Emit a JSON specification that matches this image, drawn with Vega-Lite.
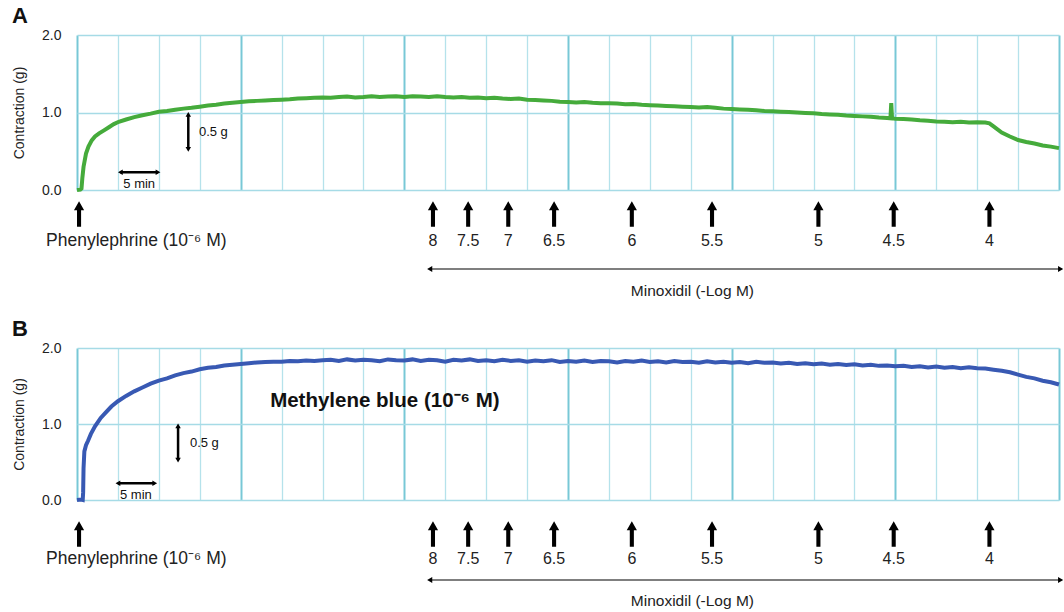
{
  "$schema": "https://vega.github.io/schema/vega-lite/v6.json",
  "padding": {"left": 12, "top": 5, "right": 0, "bottom": 0},
  "background": "white",
  "config": {
    "font": "Liberation Sans",
    "view": {"stroke": null},
    "title": {"color": "#111", "font": "Liberation Sans"}
  },
  "datasets": {
    "A": [
      {"t":0,"g":0},{"t":0.4,"g":0.005},{"t":0.55,"g":0.02},{"t":0.65,"g":0.15},{"t":0.8,"g":0.3},{"t":1.1,"g":0.47},{"t":1.4,"g":0.56},{"t":1.8,"g":0.64},{"t":2.2,"g":0.69},{"t":2.7,"g":0.73},{"t":3.3,"g":0.77},{"t":3.9,"g":0.81},{"t":4.5,"g":0.85},{"t":5.1,"g":0.88},{"t":6,"g":0.91},{"t":7,"g":0.94},{"t":8,"g":0.965},{"t":9,"g":0.985},{"t":10,"g":1.01},{"t":11,"g":1.02},{"t":12,"g":1.035},{"t":13,"g":1.05},{"t":14,"g":1.06},{"t":15,"g":1.075},{"t":16,"g":1.09},{"t":17,"g":1.1},{"t":18,"g":1.115},{"t":19,"g":1.125},{"t":20,"g":1.135},{"t":21,"g":1.145},{"t":22,"g":1.15},{"t":23,"g":1.155},{"t":24,"g":1.16},{"t":25,"g":1.165},{"t":26,"g":1.17},{"t":27,"g":1.18},{"t":28,"g":1.185},{"t":29,"g":1.19},{"t":30,"g":1.195},{"t":31,"g":1.19},{"t":32,"g":1.2},{"t":33,"g":1.205},{"t":34,"g":1.195},{"t":35,"g":1.2},{"t":36,"g":1.21},{"t":37,"g":1.2},{"t":38,"g":1.205},{"t":39,"g":1.21},{"t":40,"g":1.2},{"t":41,"g":1.21},{"t":42,"g":1.205},{"t":43,"g":1.2},{"t":44,"g":1.21},{"t":45,"g":1.2},{"t":46,"g":1.195},{"t":47,"g":1.2},{"t":48,"g":1.19},{"t":49,"g":1.195},{"t":50,"g":1.185},{"t":51,"g":1.19},{"t":52,"g":1.18},{"t":53,"g":1.175},{"t":54,"g":1.18},{"t":55,"g":1.165},{"t":56,"g":1.16},{"t":57,"g":1.155},{"t":58,"g":1.15},{"t":59,"g":1.14},{"t":60,"g":1.135},{"t":61,"g":1.13},{"t":62,"g":1.135},{"t":63,"g":1.125},{"t":64,"g":1.12},{"t":65,"g":1.12},{"t":66,"g":1.115},{"t":67,"g":1.105},{"t":68,"g":1.11},{"t":69,"g":1.1},{"t":70,"g":1.095},{"t":71,"g":1.09},{"t":72,"g":1.085},{"t":73,"g":1.08},{"t":74,"g":1.075},{"t":75,"g":1.07},{"t":76,"g":1.065},{"t":77,"g":1.07},{"t":78,"g":1.06},{"t":79,"g":1.05},{"t":80,"g":1.045},{"t":81,"g":1.04},{"t":82,"g":1.035},{"t":83,"g":1.03},{"t":84,"g":1.02},{"t":85,"g":1.015},{"t":86,"g":1.01},{"t":87,"g":1.005},{"t":88,"g":1.0},{"t":89,"g":0.995},{"t":90,"g":0.99},{"t":91,"g":0.98},{"t":92,"g":0.975},{"t":93,"g":0.97},{"t":94,"g":0.96},{"t":95,"g":0.955},{"t":96,"g":0.95},{"t":97,"g":0.945},{"t":98,"g":0.935},{"t":99,"g":0.93},{"t":99.4,"g":0.925},{"t":99.5,"g":1.12},{"t":99.6,"g":0.925},{"t":100,"g":0.92},{"t":101,"g":0.915},{"t":102,"g":0.91},{"t":103,"g":0.9},{"t":104,"g":0.895},{"t":105,"g":0.885},{"t":106,"g":0.88},{"t":107,"g":0.875},{"t":108,"g":0.88},{"t":109,"g":0.87},{"t":110,"g":0.875},{"t":111,"g":0.87},{"t":111.5,"g":0.86},{"t":112,"g":0.82},{"t":113,"g":0.74},{"t":114,"g":0.69},{"t":115,"g":0.645},{"t":116,"g":0.62},{"t":117,"g":0.6},{"t":118,"g":0.575},{"t":119,"g":0.56},{"t":120,"g":0.54}
    ],
    "B": [
      {"t":0,"g":0},{"t":0.5,"g":0.005},{"t":0.7,"g":0},{"t":0.75,"g":0.1},{"t":0.8,"g":0.42},{"t":0.9,"g":0.64},{"t":1.1,"g":0.72},{"t":1.35,"g":0.78},{"t":1.7,"g":0.87},{"t":2.2,"g":0.97},{"t":2.9,"g":1.08},{"t":3.5,"g":1.15},{"t":4.2,"g":1.23},{"t":5,"g":1.3},{"t":6,"g":1.37},{"t":7,"g":1.43},{"t":8,"g":1.48},{"t":9,"g":1.53},{"t":10,"g":1.57},{"t":11,"g":1.6},{"t":12,"g":1.64},{"t":13,"g":1.67},{"t":14,"g":1.69},{"t":15,"g":1.72},{"t":16,"g":1.74},{"t":17,"g":1.75},{"t":18,"g":1.77},{"t":19,"g":1.78},{"t":20,"g":1.79},{"t":21,"g":1.8},{"t":22,"g":1.81},{"t":23,"g":1.815},{"t":24,"g":1.82},{"t":25,"g":1.82},{"t":26,"g":1.83},{"t":27,"g":1.825},{"t":28,"g":1.835},{"t":29,"g":1.83},{"t":30,"g":1.84},{"t":31,"g":1.845},{"t":32,"g":1.83},{"t":33,"g":1.85},{"t":34,"g":1.835},{"t":35,"g":1.845},{"t":36,"g":1.84},{"t":37,"g":1.825},{"t":38,"g":1.85},{"t":39,"g":1.84},{"t":40,"g":1.835},{"t":41,"g":1.85},{"t":42,"g":1.83},{"t":43,"g":1.845},{"t":44,"g":1.84},{"t":45,"g":1.82},{"t":46,"g":1.845},{"t":47,"g":1.835},{"t":48,"g":1.85},{"t":49,"g":1.83},{"t":50,"g":1.84},{"t":51,"g":1.825},{"t":52,"g":1.845},{"t":53,"g":1.83},{"t":54,"g":1.84},{"t":55,"g":1.82},{"t":56,"g":1.835},{"t":57,"g":1.825},{"t":58,"g":1.84},{"t":59,"g":1.815},{"t":60,"g":1.83},{"t":61,"g":1.82},{"t":62,"g":1.835},{"t":63,"g":1.815},{"t":64,"g":1.83},{"t":65,"g":1.825},{"t":66,"g":1.81},{"t":67,"g":1.83},{"t":68,"g":1.82},{"t":69,"g":1.835},{"t":70,"g":1.815},{"t":71,"g":1.825},{"t":72,"g":1.81},{"t":73,"g":1.83},{"t":74,"g":1.815},{"t":75,"g":1.82},{"t":76,"g":1.805},{"t":77,"g":1.825},{"t":78,"g":1.81},{"t":79,"g":1.82},{"t":80,"g":1.805},{"t":81,"g":1.815},{"t":82,"g":1.8},{"t":83,"g":1.82},{"t":84,"g":1.805},{"t":85,"g":1.81},{"t":86,"g":1.795},{"t":87,"g":1.805},{"t":88,"g":1.79},{"t":89,"g":1.8},{"t":90,"g":1.785},{"t":91,"g":1.795},{"t":92,"g":1.78},{"t":93,"g":1.79},{"t":94,"g":1.775},{"t":95,"g":1.785},{"t":96,"g":1.77},{"t":97,"g":1.78},{"t":98,"g":1.765},{"t":99,"g":1.77},{"t":100,"g":1.76},{"t":101,"g":1.765},{"t":102,"g":1.75},{"t":103,"g":1.76},{"t":104,"g":1.745},{"t":105,"g":1.755},{"t":106,"g":1.74},{"t":107,"g":1.75},{"t":108,"g":1.735},{"t":109,"g":1.745},{"t":110,"g":1.735},{"t":111,"g":1.73},{"t":112,"g":1.715},{"t":113,"g":1.7},{"t":114,"g":1.68},{"t":115,"g":1.65},{"t":116,"g":1.62},{"t":117,"g":1.6},{"t":118,"g":1.57},{"t":119,"g":1.55},{"t":120,"g":1.52}
    ],
    "adds": [
      {"t":43.5,"label":"8"},{"t":47.8,"label":"7.5"},{"t":52.7,"label":"7"},{"t":58.3,"label":"6.5"},{"t":67.8,"label":"6"},{"t":77.6,"label":"5.5"},{"t":90.6,"label":"5"},{"t":99.8,"label":"4.5"},{"t":111.5,"label":"4"}
    ],
    "pe": [{"t":0.25,"label":"Phenylephrine (10⁻⁶ M)"}]
  },
  "vconcat": [
    {
      "width": 982, "height": 155,
      "title": {"text": "A", "anchor": "start", "frame": "group", "fontSize": 22, "fontWeight": "bold", "dx": -65, "offset": 0},
      "layer": [
        {
          "data": {"name": "A"},
          "mark": {"type": "line", "color": "#45ab3b", "strokeWidth": 4},
          "encoding": {
            "x": {"field": "t", "type": "quantitative", "scale": {"domain": [0, 120], "nice": false, "zero": false},
              "axis": {"values": [0,5,10,15,20,25,30,35,40,45,50,55,60,65,70,75,80,85,90,95,100,105,110,115,120], "labels": false, "ticks": false, "domain": false, "title": null, "grid": true,
                "gridColor": {"condition": {"test": "datum.value % 20 === 0", "value": "#78c8d6"}, "value": "#b5e2eb"},
                "gridWidth": {"condition": {"test": "datum.value % 20 === 0", "value": 2}, "value": 1.3}}},
            "y": {"field": "g", "type": "quantitative", "scale": {"domain": [0, 2], "nice": false},
              "axis": {"values": [0, 0.5, 1, 1.5, 2], "labelExpr": "datum.value % 1 === 0 ? format(datum.value, '.1f') : ''", "ticks": false, "domain": false, "grid": true, "gridColor": "#a6dbe6", "gridWidth": 1.4, "labelPadding": 16, "labelFontSize": 14, "labelColor": "#222", "title": "Contraction (g)", "titleFontSize": 14, "titleFontWeight": "normal", "titleColor": "#222", "titlePadding": 15}}
          }
        },
        {"data": {"values": [{}]}, "mark": {"type": "rule", "color": "black", "strokeWidth": 2.5}, "encoding": {"x": {"datum": 13.6, "type": "quantitative"}, "y": {"datum": 0.53, "type": "quantitative"}, "y2": {"datum": 0.97}}},
        {"data": {"values": [{}]}, "mark": {"type": "point", "shape": "triangle-up", "size": 30, "filled": true, "color": "black", "opacity": 1}, "encoding": {"x": {"datum": 13.6, "type": "quantitative"}, "y": {"datum": 0.975, "type": "quantitative"}}},
        {"data": {"values": [{}]}, "mark": {"type": "point", "shape": "triangle-down", "size": 30, "filled": true, "color": "black", "opacity": 1}, "encoding": {"x": {"datum": 13.6, "type": "quantitative"}, "y": {"datum": 0.525, "type": "quantitative"}}},
        {"data": {"values": [{}]}, "mark": {"type": "text", "text": "0.5 g", "fontSize": 13, "align": "left", "baseline": "middle", "color": "#111"}, "encoding": {"x": {"datum": 14.9, "type": "quantitative"}, "y": {"datum": 0.75, "type": "quantitative"}}},
        {"data": {"values": [{}]}, "mark": {"type": "rule", "color": "black", "strokeWidth": 2.5}, "encoding": {"x": {"datum": 5.3, "type": "quantitative"}, "x2": {"datum": 9.9}, "y": {"datum": 0.23, "type": "quantitative"}}},
        {"data": {"values": [{}]}, "mark": {"type": "point", "shape": "triangle-left", "size": 30, "filled": true, "color": "black", "opacity": 1}, "encoding": {"x": {"datum": 5.3, "type": "quantitative"}, "y": {"datum": 0.23, "type": "quantitative"}}},
        {"data": {"values": [{}]}, "mark": {"type": "point", "shape": "triangle-right", "size": 30, "filled": true, "color": "black", "opacity": 1}, "encoding": {"x": {"datum": 9.9, "type": "quantitative"}, "y": {"datum": 0.23, "type": "quantitative"}}},
        {"data": {"values": [{}]}, "mark": {"type": "text", "text": "5 min", "fontSize": 13, "align": "center", "baseline": "middle", "color": "#111"}, "encoding": {"x": {"datum": 7.6, "type": "quantitative"}, "y": {"datum": 0.08, "type": "quantitative"}}}
      ]
    },
    {
      "width": 982, "height": 120,
      "layer": [
        {"data": {"name": "adds"}, "mark": {"type": "point", "shape": "M0,-1L0.4,-0.3L0.16,-0.3L0.16,1L-0.16,1L-0.16,-0.3L-0.4,-0.3Z", "size": 650, "filled": true, "color": "black", "opacity": 1, "strokeWidth": 0},
          "encoding": {"x": {"field": "t", "type": "quantitative", "scale": {"domain": [0, 120], "nice": false, "zero": false}, "axis": null}, "y": {"datum": 16, "type": "quantitative", "scale": {"domain": [0, 120], "reverse": true, "nice": false, "zero": false}, "axis": null}}},
        {"data": {"name": "adds"}, "mark": {"type": "text", "fontSize": 16, "baseline": "middle", "color": "#222"},
          "encoding": {"x": {"field": "t", "type": "quantitative"}, "y": {"datum": 43, "type": "quantitative"}, "text": {"field": "label"}}},
        {"data": {"name": "pe"}, "mark": {"type": "point", "shape": "M0,-1L0.4,-0.3L0.16,-0.3L0.16,1L-0.16,1L-0.16,-0.3L-0.4,-0.3Z", "size": 650, "filled": true, "color": "black", "opacity": 1, "strokeWidth": 0},
          "encoding": {"x": {"field": "t", "type": "quantitative"}, "y": {"datum": 16, "type": "quantitative"}}},
        {"data": {"name": "pe"}, "mark": {"type": "text", "fontSize": 17.5, "baseline": "middle", "align": "left", "dx": -33, "color": "#222"},
          "encoding": {"x": {"field": "t", "type": "quantitative"}, "y": {"datum": 43, "type": "quantitative"}, "text": {"field": "label"}}},
        {"data": {"values": [{}]}, "mark": {"type": "rule", "color": "black", "strokeWidth": 1.2}, "encoding": {"x": {"datum": 43.0, "type": "quantitative"}, "x2": {"datum": 120.3}, "y": {"datum": 71, "type": "quantitative"}}},
        {"data": {"values": [{}]}, "mark": {"type": "point", "shape": "triangle-left", "size": 35, "filled": true, "color": "black", "opacity": 1}, "encoding": {"x": {"datum": 43.1, "type": "quantitative"}, "y": {"datum": 71, "type": "quantitative"}}},
        {"data": {"values": [{}]}, "mark": {"type": "point", "shape": "triangle-right", "size": 35, "filled": true, "color": "black", "opacity": 1}, "encoding": {"x": {"datum": 120.2, "type": "quantitative"}, "y": {"datum": 71, "type": "quantitative"}}},
        {"data": {"values": [{}]}, "mark": {"type": "text", "text": "Minoxidil (-Log M)", "fontSize": 15.5, "baseline": "middle", "align": "center", "color": "#222"}, "encoding": {"x": {"datum": 75.2, "type": "quantitative"}, "y": {"datum": 93, "type": "quantitative"}}}
      ]
    },
    {
      "width": 982, "height": 152,
      "title": {"text": "B", "anchor": "start", "frame": "group", "fontSize": 22, "fontWeight": "bold", "dx": -65, "offset": 0},
      "layer": [
        {
          "data": {"name": "B"},
          "mark": {"type": "line", "color": "#3859b3", "strokeWidth": 4},
          "encoding": {
            "x": {"field": "t", "type": "quantitative", "scale": {"domain": [0, 120], "nice": false, "zero": false},
              "axis": {"values": [0,5,10,15,20,25,30,35,40,45,50,55,60,65,70,75,80,85,90,95,100,105,110,115,120], "labels": false, "ticks": false, "domain": false, "title": null, "grid": true,
                "gridColor": {"condition": {"test": "datum.value % 20 === 0", "value": "#78c8d6"}, "value": "#b5e2eb"},
                "gridWidth": {"condition": {"test": "datum.value % 20 === 0", "value": 2}, "value": 1.3}}},
            "y": {"field": "g", "type": "quantitative", "scale": {"domain": [0, 2], "nice": false},
              "axis": {"values": [0, 0.5, 1, 1.5, 2], "labelExpr": "datum.value % 1 === 0 ? format(datum.value, '.1f') : ''", "ticks": false, "domain": false, "grid": true, "gridColor": "#a6dbe6", "gridWidth": 1.4, "labelPadding": 16, "labelFontSize": 14, "labelColor": "#222", "title": "Contraction (g)", "titleFontSize": 14, "titleFontWeight": "normal", "titleColor": "#222", "titlePadding": 15}}
          }
        },
        {"data": {"values": [{}]}, "mark": {"type": "rule", "color": "black", "strokeWidth": 2.5}, "encoding": {"x": {"datum": 12.35, "type": "quantitative"}, "y": {"datum": 0.53, "type": "quantitative"}, "y2": {"datum": 0.97}}},
        {"data": {"values": [{}]}, "mark": {"type": "point", "shape": "triangle-up", "size": 30, "filled": true, "color": "black", "opacity": 1}, "encoding": {"x": {"datum": 12.35, "type": "quantitative"}, "y": {"datum": 0.975, "type": "quantitative"}}},
        {"data": {"values": [{}]}, "mark": {"type": "point", "shape": "triangle-down", "size": 30, "filled": true, "color": "black", "opacity": 1}, "encoding": {"x": {"datum": 12.35, "type": "quantitative"}, "y": {"datum": 0.525, "type": "quantitative"}}},
        {"data": {"values": [{}]}, "mark": {"type": "text", "text": "0.5 g", "fontSize": 13, "align": "left", "baseline": "middle", "color": "#111"}, "encoding": {"x": {"datum": 13.8, "type": "quantitative"}, "y": {"datum": 0.75, "type": "quantitative"}}},
        {"data": {"values": [{}]}, "mark": {"type": "rule", "color": "black", "strokeWidth": 2.5}, "encoding": {"x": {"datum": 5.0, "type": "quantitative"}, "x2": {"datum": 9.5}, "y": {"datum": 0.22, "type": "quantitative"}}},
        {"data": {"values": [{}]}, "mark": {"type": "point", "shape": "triangle-left", "size": 30, "filled": true, "color": "black", "opacity": 1}, "encoding": {"x": {"datum": 5.0, "type": "quantitative"}, "y": {"datum": 0.22, "type": "quantitative"}}},
        {"data": {"values": [{}]}, "mark": {"type": "point", "shape": "triangle-right", "size": 30, "filled": true, "color": "black", "opacity": 1}, "encoding": {"x": {"datum": 9.5, "type": "quantitative"}, "y": {"datum": 0.22, "type": "quantitative"}}},
        {"data": {"values": [{}]}, "mark": {"type": "text", "text": "5 min", "fontSize": 13, "align": "center", "baseline": "middle", "color": "#111"}, "encoding": {"x": {"datum": 7.2, "type": "quantitative"}, "y": {"datum": 0.07, "type": "quantitative"}}},
        {"data": {"values": [{}]}, "mark": {"type": "text", "text": "Methylene blue (10⁻⁶ M)", "fontSize": 20.5, "fontWeight": "bold", "align": "left", "baseline": "middle", "color": "#111"}, "encoding": {"x": {"datum": 23.6, "type": "quantitative"}, "y": {"datum": 1.3, "type": "quantitative"}}}
      ]
    },
    {
      "width": 982, "height": 106,
      "layer": [
        {"data": {"name": "adds"}, "mark": {"type": "point", "shape": "M0,-1L0.4,-0.3L0.16,-0.3L0.16,1L-0.16,1L-0.16,-0.3L-0.4,-0.3Z", "size": 650, "filled": true, "color": "black", "opacity": 1, "strokeWidth": 0},
          "encoding": {"x": {"field": "t", "type": "quantitative", "scale": {"domain": [0, 120], "nice": false, "zero": false}, "axis": null}, "y": {"datum": 26, "type": "quantitative", "scale": {"domain": [0, 106], "reverse": true, "nice": false, "zero": false}, "axis": null}}},
        {"data": {"name": "adds"}, "mark": {"type": "text", "fontSize": 16, "baseline": "middle", "color": "#222"},
          "encoding": {"x": {"field": "t", "type": "quantitative"}, "y": {"datum": 51, "type": "quantitative"}, "text": {"field": "label"}}},
        {"data": {"name": "pe"}, "mark": {"type": "point", "shape": "M0,-1L0.4,-0.3L0.16,-0.3L0.16,1L-0.16,1L-0.16,-0.3L-0.4,-0.3Z", "size": 650, "filled": true, "color": "black", "opacity": 1, "strokeWidth": 0},
          "encoding": {"x": {"field": "t", "type": "quantitative"}, "y": {"datum": 26, "type": "quantitative"}}},
        {"data": {"name": "pe"}, "mark": {"type": "text", "fontSize": 17.5, "baseline": "middle", "align": "left", "dx": -33, "color": "#222"},
          "encoding": {"x": {"field": "t", "type": "quantitative"}, "y": {"datum": 51, "type": "quantitative"}, "text": {"field": "label"}}},
        {"data": {"values": [{}]}, "mark": {"type": "rule", "color": "black", "strokeWidth": 1.2}, "encoding": {"x": {"datum": 43.0, "type": "quantitative"}, "x2": {"datum": 120.3}, "y": {"datum": 72, "type": "quantitative"}}},
        {"data": {"values": [{}]}, "mark": {"type": "point", "shape": "triangle-left", "size": 35, "filled": true, "color": "black", "opacity": 1}, "encoding": {"x": {"datum": 43.1, "type": "quantitative"}, "y": {"datum": 72, "type": "quantitative"}}},
        {"data": {"values": [{}]}, "mark": {"type": "point", "shape": "triangle-right", "size": 35, "filled": true, "color": "black", "opacity": 1}, "encoding": {"x": {"datum": 120.2, "type": "quantitative"}, "y": {"datum": 72, "type": "quantitative"}}},
        {"data": {"values": [{}]}, "mark": {"type": "text", "text": "Minoxidil (-Log M)", "fontSize": 15.5, "baseline": "middle", "align": "center", "color": "#222"}, "encoding": {"x": {"datum": 75.2, "type": "quantitative"}, "y": {"datum": 93, "type": "quantitative"}}}
      ]
    }
  ],
  "spacing": 0
}
